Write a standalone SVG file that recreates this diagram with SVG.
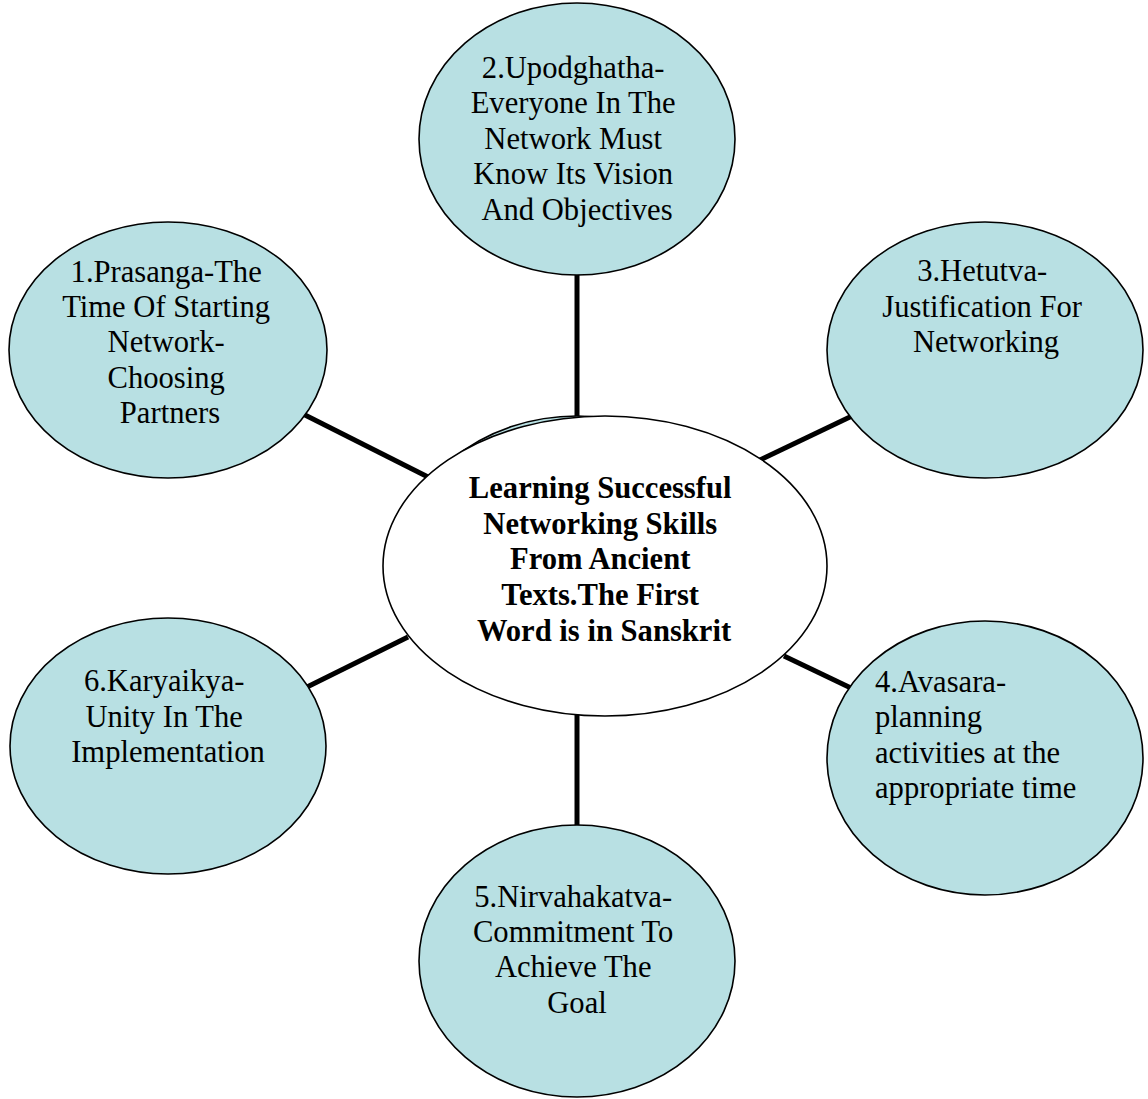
<svg xmlns="http://www.w3.org/2000/svg" width="1148" height="1099" viewBox="0 0 1148 1099">
  <style>
    .bubble { fill: #B8E0E3; stroke: #000; stroke-width: 1.6; }
    .hub { fill: #fff; stroke: #000; stroke-width: 1.6; }
    .link { stroke: #000; stroke-width: 5; fill: none; }
    .t { font-family: "Liberation Serif", "Times New Roman", serif; font-size: 30.6px; fill: #000; }
    .c { text-anchor: middle; }
    .b { font-weight: bold; }
  </style>
  <rect width="1148" height="1099" fill="#fff"/>

  <!-- spokes from the hub to each bubble -->
  <g id="connectors">
    <line class="link" x1="577" y1="270" x2="577" y2="420"/>
    <line class="link" x1="577" y1="710" x2="577" y2="830"/>
    <line class="link" x1="303" y1="414" x2="430" y2="478"/>
    <line class="link" x1="758" y1="461" x2="852" y2="416"/>
    <line class="link" x1="303" y1="689" x2="408" y2="637"/>
    <line class="link" x1="784" y1="656" x2="853" y2="689"/>
  </g>

  <g id="node-center">
    <!-- shape lying under the hub; only its upper rim peeks out -->
    <path class="bubble" d="M399,566 A178,150 0 0 1 755,566 Z"/>
    <ellipse class="hub" cx="605" cy="566" rx="222" ry="150"/>
    <text class="t c b">
      <tspan x="604" y="498">Learning Successful</tspan>
      <tspan x="604" y="534">Networking Skills</tspan>
      <tspan x="604" y="569">From Ancient</tspan>
      <tspan x="604" y="605">Texts.The First</tspan>
      <tspan x="604" y="641">Word is in Sanskrit</tspan>
    </text>
  </g>

  <g id="node-1">
    <ellipse class="bubble" cx="168" cy="350" rx="159" ry="128"/>
    <text class="t c">
      <tspan x="170" y="282">1.Prasanga-The</tspan>
      <tspan x="170" y="317">Time Of Starting</tspan>
      <tspan x="170" y="352">Network-</tspan>
      <tspan x="170" y="388">Choosing</tspan>
      <tspan x="170" y="423">Partners</tspan>
    </text>
  </g>

  <g id="node-2">
    <ellipse class="bubble" cx="577" cy="139" rx="158" ry="136"/>
    <text class="t c">
      <tspan x="577" y="78">2.Upodghatha-</tspan>
      <tspan x="577" y="113">Everyone In The</tspan>
      <tspan x="577" y="149">Network Must</tspan>
      <tspan x="577" y="184">Know Its Vision</tspan>
      <tspan x="577" y="220">And Objectives</tspan>
    </text>
  </g>

  <g id="node-3">
    <ellipse class="bubble" cx="985" cy="350" rx="158" ry="128"/>
    <text class="t c">
      <tspan x="986" y="281">3.Hetutva-</tspan>
      <tspan x="986" y="317">Justification For</tspan>
      <tspan x="986" y="352">Networking</tspan>
    </text>
  </g>

  <g id="node-4">
    <ellipse class="bubble" cx="985" cy="758" rx="158" ry="137"/>
    <text class="t">
      <tspan x="875" y="692">4.Avasara-</tspan>
      <tspan x="875" y="727">planning</tspan>
      <tspan x="875" y="763">activities at the</tspan>
      <tspan x="875" y="798">appropriate time</tspan>
    </text>
  </g>

  <g id="node-5">
    <ellipse class="bubble" cx="577" cy="961" rx="158" ry="136"/>
    <text class="t c">
      <tspan x="577" y="907">5.Nirvahakatva-</tspan>
      <tspan x="577" y="942">Commitment To</tspan>
      <tspan x="577" y="977">Achieve The</tspan>
      <tspan x="577" y="1013">Goal</tspan>
    </text>
  </g>

  <g id="node-6">
    <ellipse class="bubble" cx="168" cy="746" rx="158" ry="128"/>
    <text class="t c">
      <tspan x="168" y="691">6.Karyaikya-</tspan>
      <tspan x="168" y="727">Unity In The</tspan>
      <tspan x="168" y="762">Implementation</tspan>
    </text>
  </g>
</svg>
